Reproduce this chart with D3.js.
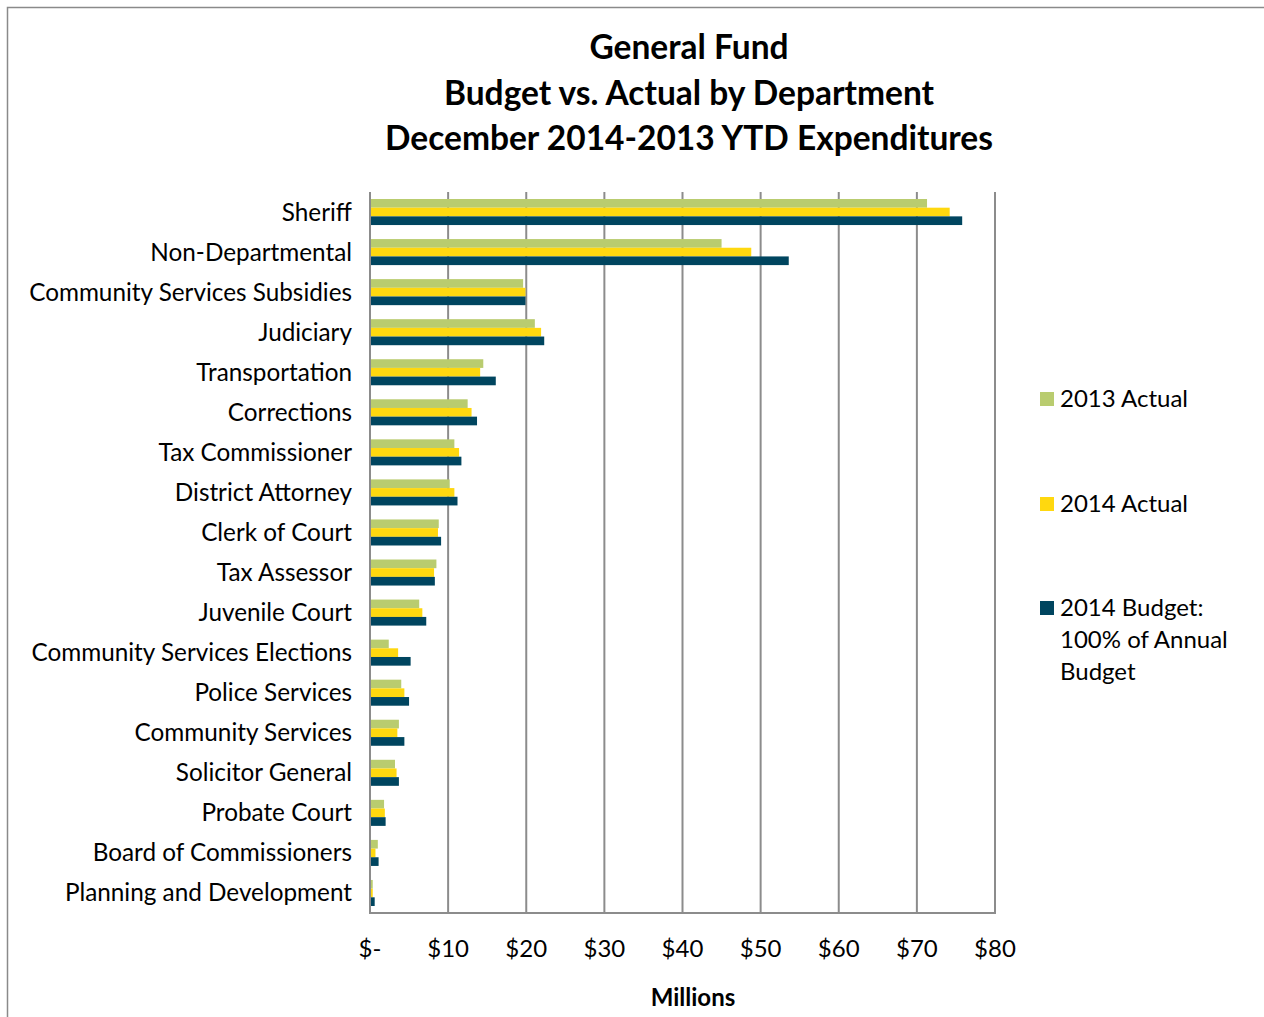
<!DOCTYPE html>
<html>
<head>
<meta charset="utf-8">
<script src="https://cdn.jsdelivr.net/npm/d3@7"></script>
<style>
  html, body { margin: 0; padding: 0; background: #fff; }
  svg { display: block; }
  text { font-family: Lato, "Open Sans", sans-serif; fill: #000; }
</style>
</head>
<body>
<svg id="chart" width="1264" height="1017"></svg>
<script>
// Departments, top to bottom
const departments = [
  "Sheriff", "Non-Departmental", "Community Services Subsidies", "Judiciary",
  "Transportation", "Corrections", "Tax Commissioner", "District Attorney",
  "Clerk of Court", "Tax Assessor", "Juvenile Court", "Community Services Elections",
  "Police Services", "Community Services", "Solicitor General", "Probate Court",
  "Board of Commissioners", "Planning and Development"
];

// Expenditures in millions of dollars
const actual2013 = [71.3, 45.0, 19.6, 21.1, 14.5, 12.5, 10.8, 10.2, 8.8, 8.5, 6.3, 2.4, 4.0, 3.7, 3.2, 1.8, 1.0, 0.35];
const actual2014 = [74.2, 48.8, 19.9, 21.9, 14.1, 13.0, 11.4, 10.8, 8.7, 8.2, 6.7, 3.6, 4.4, 3.5, 3.4, 1.9, 0.7, 0.35];
const budget2014 = [75.8, 53.6, 19.9, 22.3, 16.1, 13.7, 11.7, 11.2, 9.1, 8.3, 7.2, 5.2, 5.0, 4.4, 3.7, 2.0, 1.1, 0.6];

const seriesNames = ["2013 Actual", "2014 Actual", "2014 Budget: 100% of Annual Budget"];
const seriesColors = ["#b9cc6f", "#ffd80f", "#00455f"];
const xTicks = [0, 10, 20, 30, 40, 50, 60, 70, 80];
const xTickLabels = ["$-", "$10", "$20", "$30", "$40", "$50", "$60", "$70", "$80"];

const svg = d3.select("#chart");

// outer frame
svg.append("rect")
  .attr("x", 7.5).attr("y", 7.5).attr("width", 1270).attr("height", 1020)
  .attr("fill", "none").attr("stroke", "#8a8a8a").attr("stroke-width", 1.5);

// title
const titleLines = ["General Fund", "Budget vs. Actual by Department", "December 2014-2013 YTD Expenditures"];
svg.append("g").selectAll("text").data(titleLines).join("text")
  .attr("x", 689).attr("y", (d, i) => 59 + i * 45.5)
  .attr("text-anchor", "middle")
  .attr("font-size", 33.5).attr("font-weight", 700)
  .text(d => d);

const plot = { left: 370, right: 995, top: 192, bottom: 913 };

const x = d3.scaleLinear().domain([0, 80]).range([plot.left, plot.right]);
const y = d3.scaleBand().domain(departments).range([plot.top, plot.bottom])
  .paddingInner(0.35).paddingOuter(0.175);
const ySub = d3.scaleBand().domain(d3.range(3)).range([0, y.bandwidth()]);

// vertical gridlines
svg.append("g").selectAll("line").data(xTicks.slice(1)).join("line")
  .attr("x1", d => x(d)).attr("x2", d => x(d))
  .attr("y1", plot.top).attr("y2", plot.bottom)
  .attr("stroke", "#8c8c8c").attr("stroke-width", 2);

// bars
const seriesValues = [actual2013, actual2014, budget2014];
const rows = departments.map((d, i) => ({ dept: d, vals: seriesValues.map(s => s[i]) }));
const groups = svg.append("g").selectAll("g").data(rows).join("g")
  .attr("transform", d => `translate(0,${y(d.dept)})`);
groups.selectAll("rect").data(d => d.vals.map((v, k) => ({ v, k }))).join("rect")
  .attr("x", x(0))
  .attr("y", d => ySub(d.k))
  .attr("width", d => x(d.v) - x(0))
  .attr("height", ySub.bandwidth())
  .attr("fill", d => seriesColors[d.k]);

// axis lines
svg.append("line").attr("x1", plot.left).attr("x2", plot.left)
  .attr("y1", plot.top).attr("y2", plot.bottom)
  .attr("stroke", "#8c8c8c").attr("stroke-width", 2);
svg.append("line").attr("x1", plot.left - 1).attr("x2", plot.right + 1)
  .attr("y1", plot.bottom).attr("y2", plot.bottom)
  .attr("stroke", "#8c8c8c").attr("stroke-width", 2);

// category labels
svg.append("g").selectAll("text").data(departments).join("text")
  .attr("x", 352).attr("y", d => y(d) + y.bandwidth() / 2)
  .attr("dy", "0.35em")
  .attr("text-anchor", "end").attr("font-size", 24.3)
  .text(d => d);

// x tick labels
svg.append("g").selectAll("text").data(xTicks).join("text")
  .attr("x", d => x(d)).attr("y", 957)
  .attr("text-anchor", "middle").attr("font-size", 24)
  .text((d, i) => xTickLabels[i]);

svg.append("text").attr("x", 693).attr("y", 1006)
  .attr("text-anchor", "middle").attr("font-size", 24).attr("font-weight", 700)
  .text("Millions");

// legend
const legendItems = [
  { lines: ["2013 Actual"], y: 399 },
  { lines: ["2014 Actual"], y: 504 },
  { lines: ["2014 Budget:", "100% of Annual", "Budget"], y: 608 }
];
const lg = svg.append("g").selectAll("g").data(legendItems).join("g");
lg.append("rect")
  .attr("x", 1040).attr("y", d => d.y - 7).attr("width", 14).attr("height", 14)
  .attr("fill", (d, i) => seriesColors[i]);
lg.each(function(d) {
  d3.select(this).selectAll("text").data(d.lines).join("text")
    .attr("x", 1060).attr("y", (t, j) => d.y + j * 32)
    .attr("dy", "0.35em").attr("font-size", 24)
    .text(t => t);
});
</script>
</body>
</html>
